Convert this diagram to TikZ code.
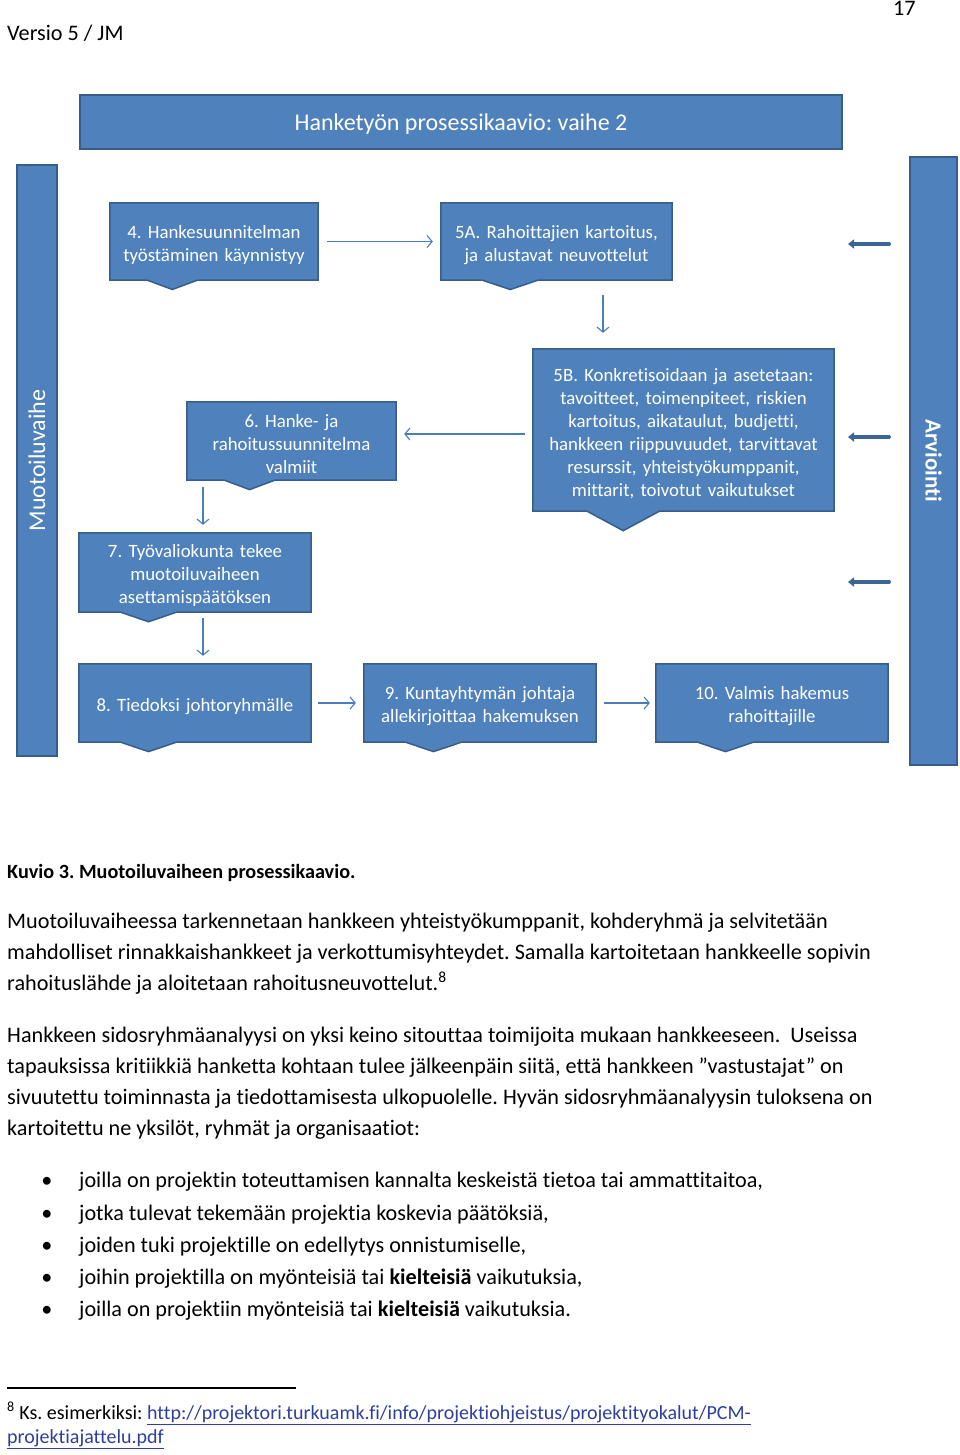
\documentclass[tikz,border=0pt]{standalone}
\usepackage{fontspec}
\setmainfont{Carlito}[Ligatures=NoCommon]
\frenchspacing
\usetikzlibrary{backgrounds,arrows.meta,calc}

\definecolor{boxblue}{HTML}{4F81BD}
\definecolor{boxedge}{HTML}{385D8A}
\definecolor{arrowblue}{HTML}{4A7EBB}
\definecolor{evalblue}{HTML}{3A6595}
\definecolor{linkblue}{HTML}{2E3F9E}

\begin{document}
\begin{tikzpicture}[x=1pt, y=-1pt,
    stepbox/.style={text=white, align=center, inner sep=0pt, font=\fontsize{18.8}{23}\selectfont, execute at begin node={\rule{0pt}{19.5pt}}},
    phasebar/.style={fill=boxblue, draw=boxedge, line width=1.5pt, text=white, inner sep=0pt},
    flow/.style={draw=arrowblue, line width=1.1pt, -{Straight Barb[length=5pt,width=12pt]}, shorten <=7pt, shorten >=8pt},
    evalarrow/.style={draw=evalblue, line width=4pt, line cap=round, -{Triangle[length=6pt,width=9pt]}},
    bodytext/.style={anchor=base west, inner sep=0pt, font=\fontsize{22.2}{31}\selectfont}]

    \useasboundingbox (0,0) rectangle (960,1455);

    % Page header
    \node[bodytext] (ver) at (7,41) {Versio 5 / JM};
    \node[bodytext] (pg) at (893,16) {17};

    % Draw the title bar and the two phase bars
    \node[phasebar, minimum width=762pt, minimum height=54pt, text height=20.4pt, text depth=3pt, font=\fontsize{24}{28}\selectfont] (title) at (461,122) {Hanketyön prosessikaavio: vaihe 2};
    \node[phasebar, minimum width=591pt, minimum height=40pt, rotate=90, font=\fontsize{24}{28}\selectfont] (muot) at (37,460.5) {Muotoiluvaihe};
    \node[phasebar, minimum width=608pt, minimum height=47pt, rotate=-90, font=\fontsize{23}{28}\selectfont\bfseries] (arv) at (933.5,461) {Arviointi};

    % Draw the process steps
    \node[stepbox, text width=208pt, minimum height=77pt] (b4) at (214,241.5) {4. Hankesuunnitelman\\työstäminen käynnistyy};
    \node[stepbox, text width=231pt, minimum height=77pt] (b5a) at (556.5,241.5) {5A. Rahoittajien kartoitus,\\ja alustavat neuvottelut};
    \node[stepbox, text width=301pt, minimum height=162pt] (b5b) at (683.5,430) {5B. Konkretisoidaan ja asetetaan:\\tavoitteet, toimenpiteet, riskien\\kartoitus, aikataulut, budjetti,\\hankkeen riippuvuudet, tarvittavat\\resurssit, yhteistyökumppanit,\\mittarit, toivotut vaikutukset};
    \node[stepbox, text width=209pt, minimum height=78pt] (b6) at (291.5,441) {6. Hanke- ja\\rahoitussuunnitelma\\valmiit};
    \node[stepbox, text width=232pt, minimum height=79pt] (b7) at (195,572.5) {7. Työvaliokunta tekee\\muotoiluvaiheen\\asettamispäätöksen};
    \node[stepbox, text width=232pt, minimum height=78pt] (b8) at (195,703) {8. Tiedoksi johtoryhmälle};
    \node[stepbox, text width=232pt, minimum height=78pt] (b9) at (480,703) {9. Kuntayhtymän johtaja\\allekirjoittaa hakemuksen};
    \node[stepbox, text width=232pt, minimum height=78pt] (b10) at (772,703) {10. Valmis hakemus\\rahoittajille};

    % Box outlines with the notch at the bottom
    \begin{scope}[on background layer]
        \foreach \n in {b4,b5a,b5b,b6,b7,b8,b9,b10}
            \filldraw[fill=boxblue, draw=boxedge, line width=1.5pt] (\n.north west) -- (\n.north east) -- (\n.south east)
                -- ($(\n.south west)!0.42!(\n.south east)$)
                -- ($(\n.south west)!0.30!(\n.south east)+0.12*(\n.south)-0.12*(\n.north)$)
                -- ($(\n.south west)!0.18!(\n.south east)$)
                -- (\n.south west) -- cycle;
    \end{scope}

    % Connectors between the steps
    \draw[flow, shorten <=9pt] (b4.east) -- (b5a.west);
    \draw[flow, shorten <=15pt, shorten >=16pt] (b5a.south -| 603,0) -- (b5b.north -| 603,0);
    \draw[flow, shorten <=8pt] (b5b.west |- 0,434) -- (b6.east |- 0,434);
    \draw[flow] (b6.south -| 203,0) -- (b7.north -| 203,0);
    \draw[flow, shorten <=6pt] (b7.south -| 203,0) -- (b8.north -| 203,0);
    \draw[flow] (b8.east) -- (b9.west);
    \draw[flow, shorten <=8pt, shorten >=6pt] (b9.east) -- (b10.west);

    % Evaluation arrows from the right bar
    \foreach \y in {244,437,582}
        \draw[evalarrow] (889,\y) -- (848,\y);

    % Caption and body text
    \node[bodytext, font=\fontsize{20.2}{28}\selectfont\bfseries] (cap) at (7,878) {Kuvio 3. Muotoiluvaiheen prosessikaavio.};

    \node[bodytext] (p1a) at (7,928) {Muotoiluvaiheessa tarkennetaan hankkeen yhteistyökumppanit, kohderyhmä ja selvitetään};
    \node[bodytext] (p1b) at (7,959) {mahdolliset rinnakkaishankkeet ja verkottumisyhteydet. Samalla kartoitetaan hankkeelle sopivin};
    \node[bodytext] (p1c) at (7,990) {rahoituslähde ja aloitetaan rahoitusneuvottelut.\textsuperscript{8}};

    \node[bodytext] (p2a) at (7,1042) {Hankkeen sidosryhmäanalyysi on yksi keino sitouttaa toimijoita mukaan hankkeeseen.~~Useissa};
    \node[bodytext] (p2b) at (7,1073) {tapauksissa kritiikkiä hanketta kohtaan tulee jälkeenpäin siitä, että hankkeen ”vastustajat” on};
    \node[bodytext] (p2c) at (7,1104) {sivuutettu toiminnasta ja tiedottamisesta ulkopuolelle. Hyvän sidosryhmäanalyysin tuloksena on};
    \node[bodytext] (p2d) at (7,1135) {kartoitettu ne yksilöt, ryhmät ja organisaatiot:};

    % Bullet list
    \foreach \y [count=\i] in {1187,1220,1252,1284,1316}
        \node[bodytext, anchor=base] (dot\i) at (47,\y) {•};
    \node[bodytext] (li1) at (79,1187) {joilla on projektin toteuttamisen kannalta keskeistä tietoa tai ammattitaitoa,};
    \node[bodytext] (li2) at (79,1220) {jotka tulevat tekemään projektia koskevia päätöksiä,};
    \node[bodytext] (li3) at (79,1252) {joiden tuki projektille on edellytys onnistumiselle,};
    \node[bodytext] (li4) at (79,1284) {joihin projektilla on myönteisiä tai \textbf{kielteisiä} vaikutuksia,};
    \node[bodytext] (li5) at (79,1316) {joilla on projektiin myönteisiä tai \textbf{kielteisiä} vaikutuksia.};

    % Footnote
    \draw[line width=1.5pt] (7,1388) -- (296,1388);
    \node[bodytext, font=\fontsize{20}{24}\selectfont] (fn1) at (7,1419) {\textsuperscript{8} Ks. esimerkiksi: \textcolor{linkblue}{\underline{http://projektori.turkuamk.fi/info/projektiohjeistus/projektityokalut/PCM-}}};
    \node[bodytext, font=\fontsize{20}{24}\selectfont] (fn2) at (7,1443) {\textcolor{linkblue}{\underline{projektiajattelu.pdf}}};

\end{tikzpicture}
\end{document}
